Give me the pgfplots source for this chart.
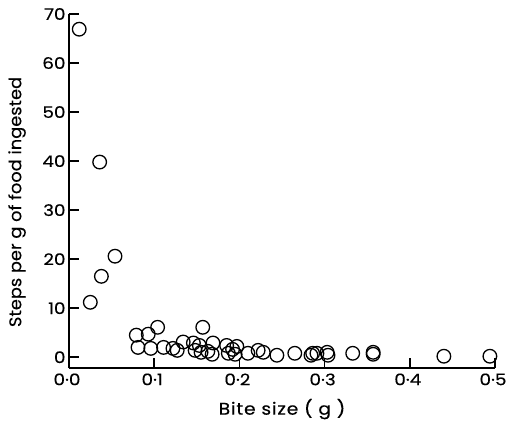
\documentclass[border=0pt]{standalone}
\usepackage{pgfplots}
\pgfplotsset{compat=1.18}
\usepackage{fontspec}
\setmainfont{Poppins}
\newfontfamily\tickfont[FakeStretch=1.15, FakeBold=0.3]{Poppins}
\newfontfamily\xlabelfont[FakeStretch=1.1, LetterSpace=5, FakeBold=0.3]{Poppins}
\newfontfamily\ylabelfont[FakeStretch=1.05, FakeBold=0.3]{Poppins}
\begin{document}
\begin{tikzpicture}
\begin{axis}[
  scale only axis, width=426bp, height=354bp,
  xmin=0, xmax=0.5, ymin=-2.2, ymax=70,
  axis x line=bottom, axis y line=left, axis line style={-, line width=1.6bp},
  xtick={0,0.1,0.2,0.3,0.4,0.5}, xticklabels={0·0,0·1,0·2,0·3,0·4,0·5},
  ytick={0,10,20,30,40,50,60,70}, yticklabels={0,10,20,30,40,50,60,70},
  major tick style={line width=1.6bp, draw=black},
  major tick length=10bp,
  tick align=inside,
  ticklabel style={font=\tickfont\fontsize{16}{18}\selectfont},
  xticklabel style={yshift=-2bp, xshift=-2bp},
  xlabel={Bite size ( g )}, ylabel={Steps per g of food ingested},
  xlabel style={font=\xlabelfont\fontsize{17}{20}\selectfont, at={(axis description cs:0.5,-0.116)}, anchor=center},
  ylabel style={font=\ylabelfont\fontsize{17}{20}\selectfont, at={(axis description cs:-0.122,0.469)}, anchor=center, rotate=0},
  clip=false,
  unbounded coords=jump,
]
\addplot[only marks, mark=o, mark size=6.8bp, mark options={line width=1.3bp, black}] coordinates {
(0.012,66.9) (0.036,39.8) (0.025,11.2) (0.038,16.5) (0.054,20.6)
(0.079,4.5) (0.093,4.7) (0.104,6.1) (0.081,2.0) (0.096,1.8)
(0.111,2.0) (0.122,1.8) (0.127,1.4) (0.134,3.1) (0.146,2.9)
(0.148,1.4) (0.153,2.4) (0.155,1.0) (0.157,6.1) (0.163,1.2)
(0.168,0.6) (0.169,2.9) (0.185,2.4) (0.192,1.6) (0.197,2.2)
(0.187,0.8) (0.195,0.6) (0.210,0.8) (0.222,1.4) (0.228,1.0)
(0.244,0.4) (0.265,0.8) (0.284,0.4) (0.286,0.8) (0.291,0.8)
(0.303,1.0) (0.304,0.4) (0.333,0.8) (0.357,1.0) (0.357,0.6)
(0.440,0.2) (0.494,0.2)
};
% tick marks drawn as stroked segments
\addplot[black, line width=1.6bp, mark=none] coordinates {
(0.1,-2.2) (0.1,-0.15) (0.1,nan)
(0.2,-2.2) (0.2,-0.15) (0.2,nan)
(0.3,-2.2) (0.3,-0.15) (0.3,nan)
(0.4,-2.2) (0.4,-0.15) (0.4,nan)
(0.5,-2.2) (0.5,-0.15) (0.5,nan)
(0,0) (0.0117,0) (0,nan)
(0,10) (0.0117,10) (0,nan)
(0,20) (0.0117,20) (0,nan)
(0,30) (0.0117,30) (0,nan)
(0,40) (0.0117,40) (0,nan)
(0,50) (0.0117,50) (0,nan)
(0,60) (0.0117,60) (0,nan)
(0,70) (0.0117,70)
};
% tick marks as thin filled bars as well
\addplot[fill=black, draw=none] coordinates {(0.09906,-2.2) (0.10094,-2.2) (0.10094,-0.15) (0.09906,-0.15)} -- cycle;
\addplot[fill=black, draw=none] coordinates {(0.19906,-2.2) (0.20094,-2.2) (0.20094,-0.15) (0.19906,-0.15)} -- cycle;
\addplot[fill=black, draw=none] coordinates {(0.29906,-2.2) (0.30094,-2.2) (0.30094,-0.15) (0.29906,-0.15)} -- cycle;
\addplot[fill=black, draw=none] coordinates {(0.39906,-2.2) (0.40094,-2.2) (0.40094,-0.15) (0.39906,-0.15)} -- cycle;
\addplot[fill=black, draw=none] coordinates {(0.49906,-2.2) (0.50094,-2.2) (0.50094,-0.15) (0.49906,-0.15)} -- cycle;
\addplot[fill=black, draw=none] coordinates {(0,-0.163) (0.0117,-0.163) (0.0117,0.163) (0,0.163)} -- cycle;
\addplot[fill=black, draw=none] coordinates {(0,9.837) (0.0117,9.837) (0.0117,10.163) (0,10.163)} -- cycle;
\addplot[fill=black, draw=none] coordinates {(0,19.837) (0.0117,19.837) (0.0117,20.163) (0,20.163)} -- cycle;
\addplot[fill=black, draw=none] coordinates {(0,29.837) (0.0117,29.837) (0.0117,30.163) (0,30.163)} -- cycle;
\addplot[fill=black, draw=none] coordinates {(0,39.837) (0.0117,39.837) (0.0117,40.163) (0,40.163)} -- cycle;
\addplot[fill=black, draw=none] coordinates {(0,49.837) (0.0117,49.837) (0.0117,50.163) (0,50.163)} -- cycle;
\addplot[fill=black, draw=none] coordinates {(0,59.837) (0.0117,59.837) (0.0117,60.163) (0,60.163)} -- cycle;
\addplot[fill=black, draw=none] coordinates {(0,69.837) (0.0117,69.837) (0.0117,70.163) (0,70.163)} -- cycle;
\end{axis}
\pgfresetboundingbox
\path ([shift={(-69bp,-53bp)}]current axis.south west) rectangle ([shift={(12bp,14bp)}]current axis.north east);
\end{tikzpicture}
\end{document}
